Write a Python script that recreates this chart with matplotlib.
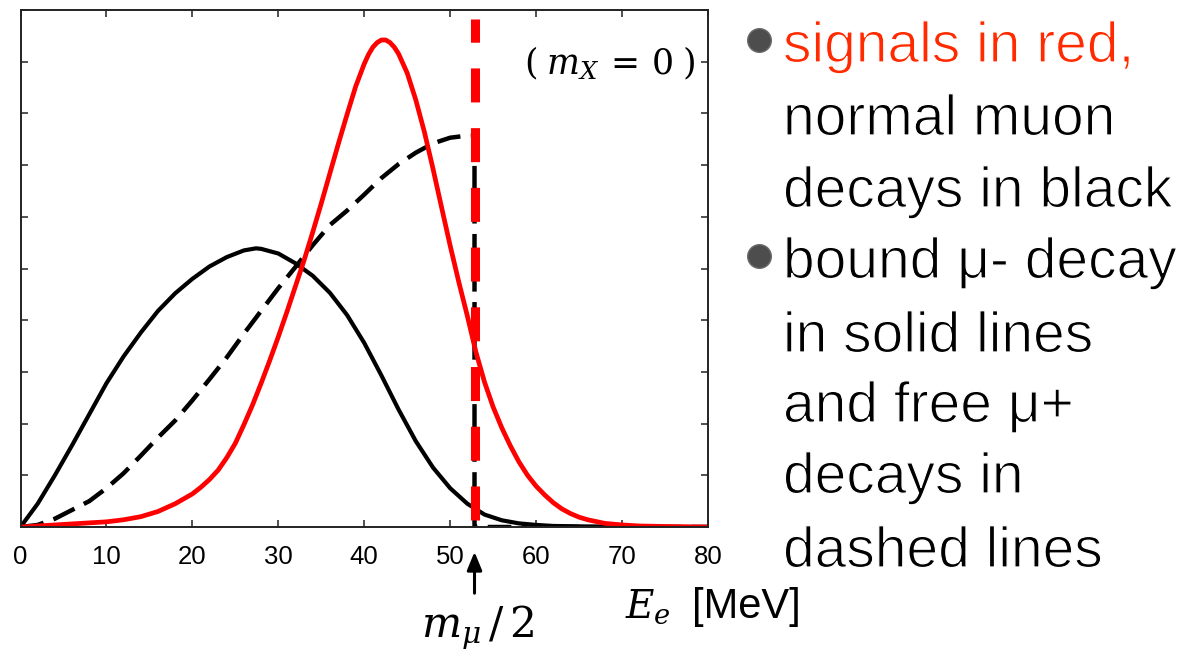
import matplotlib
matplotlib.use("Agg")
import matplotlib.pyplot as plt
import matplotlib.patheffects as pe
from matplotlib.lines import Line2D

plt.rcParams["lines.scale_dashes"] = False
plt.rcParams["mathtext.fontset"] = "dejavuserif"

# Electron energy spectra (arbitrary units) vs E_e [MeV]
e_bound = [0, 2, 4, 6, 8, 10, 12, 14, 16, 18, 20, 22, 24, 26, 27.4, 28, 30, 32, 34,
           36, 38, 40, 42, 44, 46, 48, 50, 52, 54, 56, 58, 60, 62, 66, 70, 80]
bound_decay = [0, 0.45, 1.00, 1.58, 2.18, 2.78, 3.30, 3.76, 4.18, 4.52, 4.80, 5.04,
               5.22, 5.35, 5.39, 5.38, 5.29, 5.10, 4.86, 4.53, 4.10, 3.56, 2.93, 2.27,
               1.66, 1.15, 0.75, 0.45, 0.24, 0.13, 0.07, 0.04, 0.02, 0.01, 0.0, 0.0]

MU_HALF = 52.83  # m_mu / 2 in MeV

e_free = [0, 2, 4, 6, 8, 10, 12, 14, 16, 18, 20, 22, 24, 26, 28, 30, 32, 34, 36, 38,
          40, 42, 44, 46, 48, 50, 51.5, MU_HALF, MU_HALF, 80]
free_decay = [0, 0.04, 0.16, 0.33, 0.50, 0.75, 1.04, 1.38, 1.73, 2.06, 2.45, 2.86,
              3.28, 3.74, 4.18, 4.62, 5.03, 5.45, 5.84, 6.12, 6.43, 6.75, 7.02, 7.24,
              7.42, 7.53, 7.56, 7.57, 0.0, 0.0]

e_signal = [0, 4, 8, 10, 12, 14, 16, 18, 20, 21, 22, 23, 24, 25, 26, 27, 28, 29, 30,
            31, 32, 33, 34, 35, 36, 37, 38, 39, 40, 40.5, 41, 41.5, 42, 42.5, 43,
            43.5, 44, 45, 46, 47, 48, 49, 50, 51, 52, 53, 54, 55, 56, 57, 58, 59, 60,
            61, 62, 63, 64, 65, 66, 68, 70, 72, 75, 80]
signal = [0, 0.04, 0.08, 0.10, 0.14, 0.20, 0.30, 0.45, 0.64, 0.77, 0.92, 1.10, 1.34,
          1.62, 1.98, 2.36, 2.78, 3.22, 3.68, 4.16, 4.66, 5.16, 5.70, 6.26, 6.84, 7.42,
          7.98, 8.52, 8.96, 9.14, 9.28, 9.37, 9.42, 9.42, 9.37, 9.28, 9.15, 8.78, 8.26,
          7.64, 6.93, 6.18, 5.44, 4.74, 4.08, 3.38, 2.80, 2.32, 1.92, 1.57, 1.26, 1.00,
          0.79, 0.62, 0.47, 0.35, 0.26, 0.19, 0.14, 0.07, 0.04, 0.02, 0.01, 0.0]

x_ticks = [0, 10, 20, 30, 40, 50, 60, 70, 80]

notes = [
    ("signals in red,", "#ff2a00", True),
    ("normal muon", "black", False),
    ("decays in black", "black", False),
    ("bound μ- decay", "black", True),
    ("in solid lines", "black", False),
    ("and free μ+", "black", False),
    ("decays in", "black", False),
    ("dashed lines", "black", False),
]

W, H = 1190, 656
fig = plt.figure(figsize=(W / 100, H / 100), dpi=100)


def fx(px):
    return px / W


def fy(py):
    return 1 - py / H


ax = fig.add_axes([fx(20.5), fy(527), fx(708) - fx(20.5), fy(10) - fy(527)])
ax.set_xlim(0, 80)
ax.set_ylim(0, 10)

ax.plot(e_bound, bound_decay, color="black", lw=3.0, solid_capstyle="round",
        solid_joinstyle="round")
ax.plot(e_free, free_decay, color="black", lw=3.2, dashes=(17, 7.5))
ax.plot(e_signal, signal, color="#ff0000", lw=3.4, solid_capstyle="round",
        solid_joinstyle="round")
ax.plot([MU_HALF, MU_HALF], [0.13, 9.83], color="#ff0000", lw=6.5,
        dashes=(24.5, 18.5))

ax.set_xticks(x_ticks)
ax.set_yticks(range(0, 11))
ax.set_yticklabels([])
ax.tick_params(direction="in", top=True, right=True, length=5, width=1.1,
               color="#222222")
ax.tick_params(axis="x", labelsize=18.5, pad=13)
for lab in ax.get_xticklabels():
    lab.set_family("Liberation Sans")
for sp in ax.spines.values():
    sp.set_linewidth(1.4)
    sp.set_color("#222222")

ax.text(0.982, 0.897, r"$(\;m_X\, =\, 0\;)$", transform=ax.transAxes, ha="right",
        va="center", fontsize=25)

# arrow marking m_mu/2 below the axis
xa = ax.get_xaxis_transform()
ax.annotate("", xy=(MU_HALF, -0.048), xycoords=xa, xytext=(MU_HALF, -0.128),
            textcoords=xa, annotation_clip=False,
            arrowprops=dict(arrowstyle="-|>,head_length=1.1,head_width=0.45",
                            color="black", lw=2.2, shrinkA=0, shrinkB=0))
ax.text(MU_HALF + 0.4, -0.195, r"$m_\mu\,/\,2$", transform=xa, ha="center",
        va="center", fontsize=30.5)

fig.text(fx(625), fy(618), r"$E_e$", fontsize=28, ha="left", va="baseline")
fig.text(fx(692), fy(618), "[MeV]", fontsize=30, family="Liberation Sans",
         ha="left", va="baseline")

# slightly thinned glyphs for the side notes
thin = [pe.Stroke(linewidth=0.9, foreground="white")]

baselines = [62, 135, 207, 278, 352, 422, 493, 567]
for (txt, col, bullet), b in zip(notes, baselines):
    fig.text(fx(783), fy(b), txt, color=col, fontsize=41,
             family="Liberation Sans", ha="left", va="baseline",
             path_effects=thin)
    if bullet:
        fig.add_artist(Line2D([fx(759)], [fy(b - 22)], marker="o", markersize=17,
                              color="#4d4d4d", markeredgecolor="#6a6a6a",
                              transform=fig.transFigure))

fig.savefig("out.png", dpi=100)
